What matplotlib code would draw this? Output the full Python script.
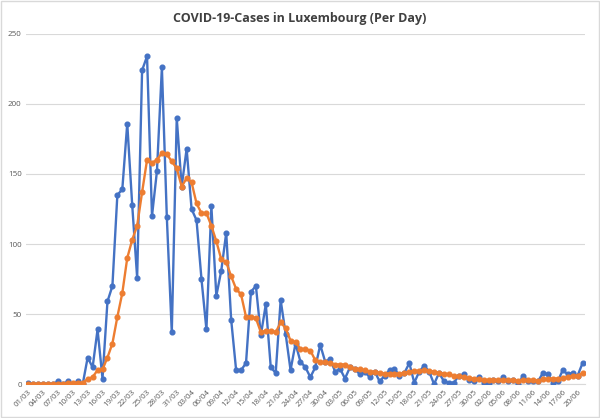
import numpy as np
import matplotlib
matplotlib.use("Agg")
import matplotlib.pyplot as plt
from matplotlib.patches import Rectangle

# daily new cases, 01/03 .. 21/06
daily_cases = [
    1, 0, 0, 0, 0, 0, 2, 0, 2, 0,
    2, 0, 19, 12, 39, 4, 59, 70, 135, 139,
    186, 128, 76, 224, 234, 120, 152, 226, 119, 37,
    190, 141, 168, 125, 117, 75, 39, 127, 63, 81,
    108, 46, 10, 10, 15, 66, 70, 35, 57, 12,
    8, 60, 36, 10, 29, 16, 12, 5, 12, 28,
    16, 18, 9, 11, 4, 12, 11, 7, 9, 5,
    9, 2, 6, 10, 11, 6, 8, 15, 1, 9,
    13, 9, 0, 8, 2, 1, 1, 6, 7, 3,
    2, 5, 1, 1, 3, 2, 5, 2, 3, 0,
    6, 2, 2, 2, 8, 7, 1, 2, 10, 7,
    8, 6, 15,
]

# smoothed line (orange), also
smoothed = [
    0, 0, 0, 0, 0, 0, 0.3, 0.3, 0.6, 0.6,
    1, 1, 3.6, 5, 10, 10.5, 19, 29, 48, 65,
    90, 103, 113, 137, 160, 158, 160, 165, 164, 159,
    154, 141, 147, 144, 129, 122, 122, 113, 102, 89,
    87, 77, 68, 64, 48, 48, 47, 37, 38, 38,
    37, 44, 40, 31, 30, 25, 25, 24, 17, 16,
    15.5, 15, 14, 14, 14, 12.5, 11, 10.5, 10, 9,
    9, 8, 7.5, 7.5, 7.5, 7.5, 8, 9, 9.5, 9.5,
    10, 9.5, 9, 8, 7.5, 7, 6, 5.5, 5, 4.5,
    4, 3.5, 3, 3, 3, 3, 3, 3, 2.8, 2.5,
    3, 3, 3, 2.5, 3.5, 4, 4, 4, 4.5, 5,
    6, 6, 8,
]

tick_labels = [
    "01/03", "04/03", "07/03", "10/03", "13/03", "16/03", "19/03", "22/03",
    "25/03", "28/03", "31/03", "03/04", "06/04", "09/04", "12/04", "15/04",
    "18/04", "21/04", "24/04", "27/04", "30/04", "03/05", "06/05", "09/05",
    "12/05", "15/05", "18/05", "21/05", "24/05", "27/05", "30/05", "02/06",
    "05/06", "08/06", "11/06", "14/06", "17/06", "20/06",
]
y_ticks = [0, 50, 100, 150, 200, 250]

BLUE = "#4472C4"
ORANGE = "#ED7D31"
GREY_TXT = "#595959"
GRID = "#D9D9D9"

plt.rcParams["font.family"] = ["Open Sans", "DejaVu Sans"]

fig = plt.figure(figsize=(6.0, 4.18), dpi=100)
ax = fig.add_axes([0.043, 0.081, 0.932, 0.838])

x = np.arange(len(daily_cases))
ax.plot(x, daily_cases, color=BLUE, linewidth=1.7, marker="o", markersize=3.4, zorder=3)
ax.plot(x, smoothed, color=ORANGE, linewidth=1.7, marker="o", markersize=3.4, zorder=4)

ax.set_xlim(-0.5, len(daily_cases) - 0.5)
ax.set_ylim(0, 250)
ax.set_yticks(y_ticks)
ax.set_yticklabels([str(v) for v in y_ticks], fontsize=5.8, color=GREY_TXT)
ax.set_xticks(np.arange(0, 3 * len(tick_labels), 3))
ax.set_xticklabels(tick_labels, fontsize=5.8, color=GREY_TXT, rotation=45,
                   ha="right", rotation_mode="anchor")
ax.tick_params(axis="both", length=0, pad=3)

ax.grid(axis="y", color=GRID, linewidth=0.8)
ax.set_axisbelow(True)
for side in ("left", "right", "top"):
    ax.spines[side].set_visible(False)
ax.spines["bottom"].set_color(GRID)
ax.spines["bottom"].set_linewidth(0.8)

fig.suptitle("COVID-19-Cases in Luxembourg (Per Day)", y=0.972, fontsize=9,
             fontweight="bold", color="#404040")

# light chart-area border
fig.patches.append(Rectangle((0.002, 0.002), 0.996, 0.995, transform=fig.transFigure,
                             fill=False, edgecolor=GRID, linewidth=1.0))

fig.savefig("out.png", dpi=100)
